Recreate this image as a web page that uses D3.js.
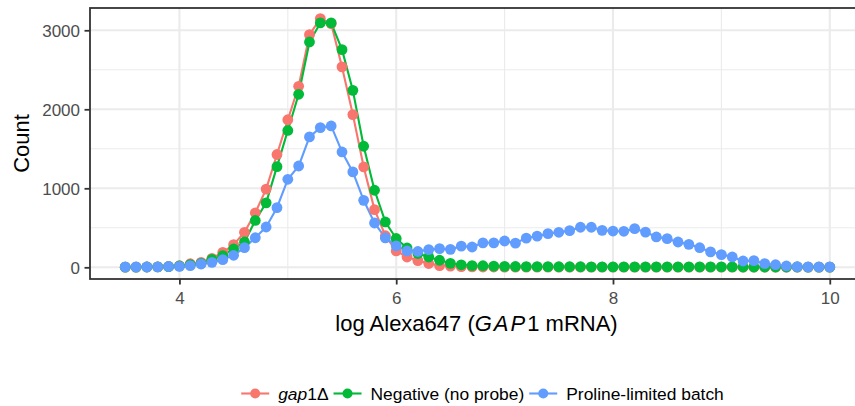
<!DOCTYPE html>
<html>
<head>
<meta charset="utf-8">
<script src="https://cdn.jsdelivr.net/npm/d3@7"></script>
<style>
  html, body { margin: 0; padding: 0; background: #fff; }
  svg { display: block; font-family: "Liberation Sans", Arial, Helvetica, sans-serif; }
</style>
</head>
<body>
<svg id="chart" width="855" height="406"></svg>
<script>
// Bin centres on the log Alexa647 axis (step 0.1)
const binStart = 3.5;
const binCount = 66;
const logIntensity = Array.from({ length: binCount }, (_, i) => +(binStart + i / 10).toFixed(1));

// Cell counts per bin for each sample
const gap1Delta = [
  2, 3, 4, 6, 10, 20, 45, 63, 114, 190,
  287, 443, 690, 990, 1428, 1868, 2291, 2945, 3148, 3085,
  2536, 1933, 1270, 730, 400, 207, 130, 85, 48, 22,
  15, 8, 5, 4, 4, 3, 3, 3, 3, 3,
  3, 3, 3, 3, 3, 3, 3, 2, 2, 2,
  2, 2, 2, 2, 2, 2, 2, 2, 2, 2,
  2, 2, 2, 2, 2, 2
];
const negativeNoProbe = [
  2, 3, 4, 6, 9, 17, 34, 50, 101, 148,
  232, 320, 593, 816, 1274, 1732, 2190, 2852, 3093, 3093,
  2755, 2240, 1532, 975, 574, 365, 245, 175, 130, 89,
  50, 32, 22, 20, 15, 12, 10, 9, 8, 8,
  7, 7, 7, 6, 6, 6, 6, 6, 5, 5,
  5, 5, 5, 5, 5, 5, 5, 4, 4, 4,
  4, 4, 4, 3, 3, 3
];
const prolineLimited = [
  5, 5, 5, 5, 10, 12, 21, 42, 63, 97,
  152, 249, 374, 510, 755, 1114, 1282, 1650, 1768, 1789,
  1460, 1207, 848, 561, 372, 272, 207, 200, 224, 236,
  227, 268, 257, 310, 310, 333, 306, 370, 394, 426,
  443, 464, 507, 507, 468, 459, 456, 489, 446, 384,
  363, 320, 291, 248, 196, 161, 131, 80, 84, 47,
  33, 17, 8, 5, 5, 5
];

const seriesNames = ["gap1Δ", "Negative (no probe)", "Proline-limited batch"];
const seriesColors = ["#F8766D", "#00BA38", "#619CFF"];
const seriesValues = [gap1Delta, negativeNoProbe, prolineLimited];

const xTicks = [4, 6, 8, 10];
const xMinor = [5, 7, 9];
const yTicks = [0, 1000, 2000, 3000];
const yMinor = [500, 1500, 2500];

const series = seriesNames.map((name, k) => ({
  name,
  color: seriesColors[k],
  points: logIntensity.map((x, i) => ({ x, y: seriesValues[k][i] }))
}));

// Panel geometry
const panel = { left: 90, top: 8, right: 865, bottom: 279 };
const svg = d3.select("#chart");

// x: data extent padded by 5% on each side
const [xLo, xHi] = d3.extent(logIntensity);
const xPad = (xHi - xLo) * 0.05;
const x = d3.scaleLinear()
  .domain([xLo - xPad, xHi + xPad])
  .range([panel.left, panel.right]);

const y = d3.scaleLinear()
  .domain([-148, 3282])
  .range([panel.bottom, panel.top]);

const g = svg.append("g");

// Panel background
g.append("rect")
  .attr("x", panel.left).attr("y", panel.top)
  .attr("width", panel.right - panel.left).attr("height", panel.bottom - panel.top)
  .attr("fill", "#fff");

// Grid lines
const grid = g.append("g");
grid.selectAll("line.xminor").data(xMinor).join("line")
  .attr("x1", d => x(d)).attr("x2", d => x(d))
  .attr("y1", panel.top).attr("y2", panel.bottom)
  .attr("stroke", "#EBEBEB").attr("stroke-width", 1.1);
grid.selectAll("line.yminor").data(yMinor).join("line")
  .attr("x1", panel.left).attr("x2", panel.right)
  .attr("y1", d => y(d)).attr("y2", d => y(d))
  .attr("stroke", "#EBEBEB").attr("stroke-width", 1.1);
grid.selectAll("line.xmajor").data(xTicks).join("line")
  .attr("x1", d => x(d)).attr("x2", d => x(d))
  .attr("y1", panel.top).attr("y2", panel.bottom)
  .attr("stroke", "#EBEBEB").attr("stroke-width", 2.1);
grid.selectAll("line.ymajor").data(yTicks).join("line")
  .attr("x1", panel.left).attr("x2", panel.right)
  .attr("y1", d => y(d)).attr("y2", d => y(d))
  .attr("stroke", "#EBEBEB").attr("stroke-width", 2.1);

// Lines, then points on top
const line = d3.line().x(d => x(d.x)).y(d => y(d.y));
const marks = g.append("g");
marks.selectAll("path.series").data(series).join("path")
  .attr("class", "series")
  .attr("d", d => line(d.points))
  .attr("fill", "none")
  .attr("stroke", d => d.color)
  .attr("stroke-width", 2.1)
  .attr("stroke-linejoin", "round");
series.forEach(s => {
  marks.append("g").selectAll("circle").data(s.points).join("circle")
    .attr("cx", d => x(d.x)).attr("cy", d => y(d.y))
    .attr("r", 5.4)
    .attr("fill", s.color);
});

// Panel border
g.append("rect")
  .attr("x", panel.left).attr("y", panel.top)
  .attr("width", panel.right - panel.left).attr("height", panel.bottom - panel.top)
  .attr("fill", "none").attr("stroke", "#333333").attr("stroke-width", 1.8);

// Axes
const xAxis = d3.axisBottom(x).tickValues(xTicks).tickSize(5.5).tickPadding(4).tickFormat(d3.format("d"));
const yAxis = d3.axisLeft(y).tickValues(yTicks).tickSize(5.5).tickPadding(4).tickFormat(d3.format("d"));

const gx = svg.append("g").attr("transform", `translate(0,${panel.bottom})`).call(xAxis);
const gy = svg.append("g").attr("transform", `translate(${panel.left},0)`).call(yAxis);
[gx, gy].forEach(ax => {
  ax.select(".domain").remove();
  ax.selectAll(".tick line").attr("stroke", "#333333").attr("stroke-width", 1.8);
  ax.selectAll(".tick text")
    .attr("fill", "#4D4D4D")
    .style("font-size", "17px")
    .style("font-family", "'Liberation Sans', Arial, sans-serif");
});
gx.selectAll(".tick text").attr("dy", null).attr("y", 24.5);
gy.selectAll(".tick text").attr("dy", "0.35em").attr("x", -10);

// Axis titles
const xTitle = svg.append("text")
  .attr("x", (panel.left + panel.right) / 2 - 1)
  .attr("y", 331)
  .attr("text-anchor", "middle")
  .style("font-size", "22px")
  .attr("fill", "#000");
xTitle.append("tspan").text("log Alexa647 (");
xTitle.append("tspan").style("font-style", "italic").attr("letter-spacing", "2px").text("GAP");
xTitle.append("tspan").text("1 mRNA)");

svg.append("text")
  .attr("transform", `translate(29,${(panel.top + panel.bottom) / 2}) rotate(-90)`)
  .attr("text-anchor", "middle")
  .style("font-size", "22px")
  .attr("fill", "#000")
  .text("Count");

// Legend
const legend = svg.append("g");
const keyW = 28, textGap = 9, itemGap = 5;
let cursor = 0;
series.forEach((s, k) => {
  const item = legend.append("g").attr("transform", `translate(${cursor},0)`);
  item.append("line")
    .attr("x1", 0).attr("x2", keyW).attr("y1", 0).attr("y2", 0)
    .attr("stroke", s.color).attr("stroke-width", 2.1);
  item.append("circle").attr("cx", keyW / 2).attr("cy", 0).attr("r", 5).attr("fill", s.color);
  const t = item.append("text")
    .attr("x", keyW + textGap).attr("y", 6)
    .style("font-size", "17.4px")
    .attr("fill", "#000");
  if (k === 0) {
    t.append("tspan").style("font-style", "italic").text("gap");
    t.append("tspan").text("1Δ");
  } else {
    t.text(s.name);
  }
  const w = t.node().getComputedTextLength();
  cursor += keyW + textGap + w + itemGap;
});
const legendWidth = cursor - itemGap;
legend.attr("transform", `translate(${482.5 - legendWidth / 2},393.5)`);
</script>
</body>
</html>
